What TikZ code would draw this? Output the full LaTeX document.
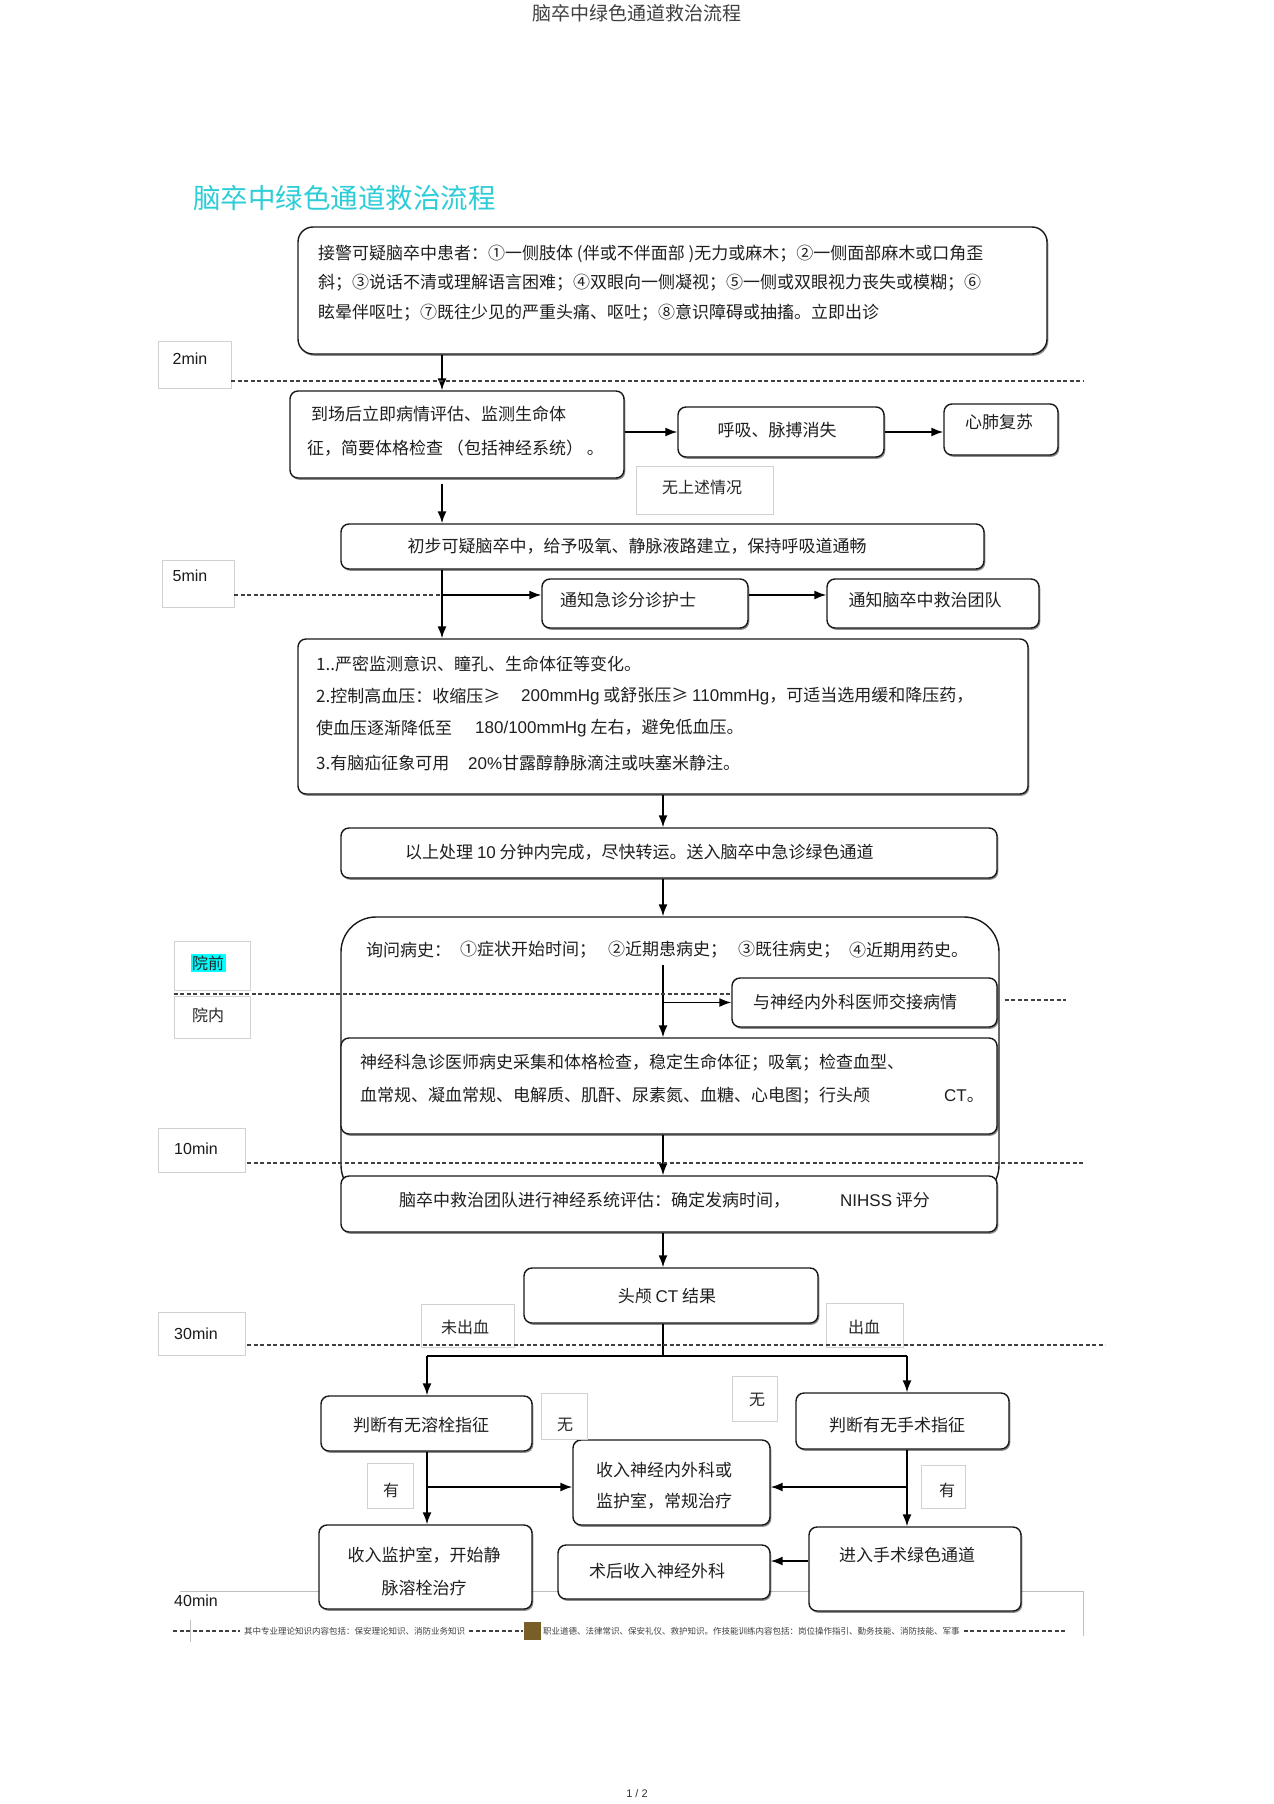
\documentclass[tikz,border=0pt]{standalone}
\usepackage{fontspec}
\setmainfont{Noto Sans CJK SC}
\newfontfamily\lat{Liberation Sans}
\usetikzlibrary{arrows.meta,shadows,fit}
\definecolor{titlecyan}{RGB}{45,205,215}
\definecolor{hlcyan}{RGB}{0,255,255}
\definecolor{iconbrown}{RGB}{120,95,40}
\begin{document}
\begin{tikzpicture}[x=1pt,y=-1pt,
 box/.style={draw=black!90, line width=1.4pt, rounded corners=8pt, fill=white, inner sep=0pt,
   drop shadow={shadow xshift=1.3pt, shadow yshift=-1.8pt, fill=black, opacity=0.45}},
 bigbox/.style={draw=black!90, line width=1.4pt, rounded corners=35pt, fill=white, inner sep=0pt},
 lbl/.style={draw=black!18, line width=0.9pt, fill=white, inner sep=0pt},
 txt/.style={font=\fontsize{17}{20}\selectfont, text=black!88, inner sep=0pt},
 ltxt/.style={font=\fontsize{16}{19}\selectfont, text=black!85, inner sep=0pt},
 mtxt/.style={font=\lat\fontsize{16}{19}\selectfont, text=black!90, inner sep=0pt},
 tiny/.style={font=\fontsize{8.5}{10}\selectfont, text=black!75, inner sep=0pt},
 arr/.style={-{Latex[length=12pt,width=9pt]}, line width=1.6pt, black},
 plain/.style={line width=1.4pt, black},
 dsh/.style={line width=2.4pt, black!75, dash pattern=on 4pt off 2.5pt},
 faint/.style={line width=0.8pt, black!25}
]
\fill[white] (0,0) rectangle (1274,1804);
\useasboundingbox (0,0) rectangle (1274,1804);

% header, title, footer
\node[font=\fontsize{19}{22}\selectfont, text=black!75, inner sep=0pt] (hdr) at (637,13) {脑卒中绿色通道救治流程};
\node[font=\fontsize{27.5}{30}\selectfont, text=titlecyan, anchor=west, inner sep=0pt] (title) at (193,198) {脑卒中绿色通道救治流程};
\node[font=\lat\fontsize{11}{13}\selectfont, text=black!80, inner sep=0pt] (foot) at (637,1794) {1 / 2};

% faint frame lines near bottom
\draw[faint] (180,1591) -- (1083,1591) -- (1083,1636);
\draw[faint] (190,1620) -- (190,1642);

% coordinates for vertical connector lines
\coordinate (xL) at (442,0);
\coordinate (xC) at (663,0);
\coordinate (xA) at (427,0);
\coordinate (xB) at (907,0);
\coordinate (y5) at (0,595);
\coordinate (ysp) at (0,1356);
\coordinate (yM) at (0,1487);
\coordinate (yS) at (0,1561);
\coordinate (q1) at (663,965);

% big enclosing box
\node[bigbox, fit={(341,917) (999,1200)}] (b6) {};

% boxes
\node[box, rounded corners=15pt, fit={(298,227) (1047,354)}] (b1) {};
\node[box, fit={(290,391) (624,478)}] (b2) {};
\node[box, fit={(678,407) (884,457)}] (hx) {};
\node[box, fit={(944,404) (1058,455)}] (cpr) {};
\node[box, fit={(341,524) (984,569)}] (b3) {};
\node[box, fit={(542,579) (748,628)}] (n1) {};
\node[box, fit={(827,579) (1039,628)}] (n2) {};
\node[box, fit={(298,639) (1028,794)}] (b4) {};
\node[box, fit={(341,828) (997,878)}] (b5) {};
\node[box, fit={(732,978) (997,1027)}] (nb) {};
\node[box, fit={(341,1038) (997,1134)}] (b7) {};
\node[box, fit={(341,1176) (997,1232)}] (b8) {};
\node[box, fit={(524,1268) (818,1323)}] (b9) {};
\node[box, fit={(321,1396) (532,1451)}] (b10) {};
\node[box, fit={(796,1393) (1009,1449)}] (b11) {};
\node[box, fit={(573,1440) (770,1525)}] (b12) {};
\node[box, fit={(319,1525) (532,1609)}] (b13) {};
\node[box, fit={(809,1527) (1021,1611)}] (b14) {};
\node[box, fit={(558,1545) (770,1599)}] (b15) {};

% label boxes
\node[lbl, fit={(158,341) (231,388)}] (m2) {};
\node[lbl, fit={(162,560) (234,607)}] (m5) {};
\node[lbl, fit={(174,941) (250,990)}] (yq) {};
\node[lbl, fit={(174,996) (250,1038)}] (yn) {};
\node[lbl, fit={(158,1128) (245,1172)}] (m10) {};
\node[lbl, fit={(158,1312) (245,1355)}] (m30) {};
\node[lbl, fit={(636,466) (773,514)}] (nos) {};
\node[lbl, fit={(421,1304) (514,1347)}] (ncx) {};
\node[lbl, fit={(826,1303) (903,1347)}] (cx) {};
\node[lbl, fit={(541,1393) (587,1439)}] (w1) {};
\node[lbl, fit={(732,1376) (777,1421)}] (w2) {};
\node[lbl, fit={(367,1463) (413,1508)}] (h1) {};
\node[lbl, fit={(921,1465) (965,1508)}] (h2) {};

% label texts
\node[mtxt] (m2t) at (190,359) {2min};
\node[mtxt] (m5t) at (190,576) {5min};
\node[mtxt] (m10t) at (196,1149) {10min};
\node[mtxt] (m30t) at (196,1334) {30min};
\node[mtxt] (m40t) at (196,1601) {40min};
\node[ltxt, fill=hlcyan, inner sep=1.5pt] (yqt) at (208,963) {院前};
\node[ltxt] (ynt) at (208,1015) {院内};
\node[ltxt] (nost) at (702,487) {无上述情况};
\node[ltxt] (ncxt) at (465,1327) {未出血};
\node[ltxt] (cxt) at (864,1327) {出血};
\node[ltxt] (w1t) at (565,1425) {无};
\node[ltxt] (w2t) at (757,1400) {无};
\node[ltxt] (h1t) at (391,1490) {有};
\node[ltxt] (h2t) at (947,1490) {有};

% box texts
\node[txt, anchor=west] (b1a) at (318,254) {接警可疑脑卒中患者：①一侧肢体 (伴或不伴面部 )无力或麻木；②一侧面部麻木或口角歪};
\node[txt, anchor=west] (b1b) at (318,283) {斜；③说话不清或理解语言困难；④双眼向一侧凝视；⑤一侧或双眼视力丧失或模糊；⑥};
\node[txt, anchor=west] (b1c) at (318,313) {眩晕伴呕吐；⑦既往少见的严重头痛、呕吐；⑧意识障碍或抽搐。立即出诊};

\node[txt, anchor=west] (b2a) at (311,414) {到场后立即病情评估、监测生命体};
\node[txt, anchor=west] (b2b) at (307,448) {征，简要体格检查 （包括神经系统） 。};
\node[txt] (hxt) at (777,430) {呼吸、脉搏消失};
\node[txt] (cprt) at (999,422) {心肺复苏};
\node[txt] (b3t) at (637,546) {初步可疑脑卒中，给予吸氧、静脉液路建立，保持呼吸道通畅};
\node[txt] (n1t) at (628,600) {通知急诊分诊护士};
\node[txt] (n2t) at (925,600) {通知脑卒中救治团队};

\node[txt, anchor=west] (b4a) at (316,664) {1..严密监测意识、瞳孔、生命体征等变化。};
\node[txt, anchor=west] (b4b) at (316,696) {2.控制高血压：收缩压≥};
\node[txt, anchor=west] (b4c) at (521,696) {{\lat 200mmHg} 或舒张压≥ {\lat 110mmHg}，可适当选用缓和降压药，};
\node[txt, anchor=west] (b4d) at (316,728) {使血压逐渐降低至};
\node[txt, anchor=west] (b4e) at (475,728) {{\lat 180/100mmHg} 左右，避免低血压。};
\node[txt, anchor=west] (b4f) at (316,763) {3.有脑疝征象可用};
\node[txt, anchor=west] (b4g) at (468,763) {{\lat 20\%}甘露醇静脉滴注或呋塞米静注。};

\node[txt, anchor=west] (b5t) at (405,852) {以上处理 {\lat 10} 分钟内完成，尽快转运。送入脑卒中急诊绿色通道};

\node[txt, anchor=west] (b6a) at (366,950) {询问病史：};
\node[txt, anchor=west] (b6b) at (460,950) {①症状开始时间；};
\node[txt, anchor=west] (b6c) at (608,950) {②近期患病史；};
\node[txt, anchor=west] (b6d) at (738,950) {③既往病史；};
\node[txt, anchor=west] (b6e) at (849,950) {④近期用药史。};
\node[txt] (nbt) at (855,1002) {与神经内外科医师交接病情};

\node[txt, anchor=west] (b7a) at (360,1063) {神经科急诊医师病史采集和体格检查，稳定生命体征；吸氧；检查血型、};
\node[txt, anchor=west] (b7b) at (360,1096) {血常规、凝血常规、电解质、肌酐、尿素氮、血糖、心电图；行头颅};
\node[txt, anchor=west] (b7c) at (944,1096) {{\lat CT}。};

\node[txt, anchor=west] (b8a) at (399,1200) {脑卒中救治团队进行神经系统评估：确定发病时间，};
\node[txt, anchor=west] (b8b) at (840,1200) {{\lat NIHSS} 评分};
\node[txt] (b9t) at (667,1296) {头颅 {\lat CT} 结果};
\node[txt] (b10t) at (421,1425) {判断有无溶栓指征};
\node[txt] (b11t) at (897,1425) {判断有无手术指征};
\node[txt, anchor=west] (b12a) at (596,1470) {收入神经内外科或};
\node[txt, anchor=west] (b12b) at (596,1501) {监护室，常规治疗};
\node[txt] (b13a) at (424,1555) {收入监护室，开始静};
\node[txt] (b13b) at (424,1588) {脉溶栓治疗};
\node[txt] (b14t) at (907,1555) {进入手术绿色通道};
\node[txt] (b15t) at (657,1571) {术后收入神经外科};

% connectors
\draw[arr] (b1.south -| xL) -- (b2.north -| xL);
\draw[arr] (b2.east |- hx.west) -- (hx.west);
\draw[arr] (hx.east |- hx.west) -- (cpr.west |- hx.west);
\draw[arr, shorten <=5pt] (b2.south -| xL) -- (b3.north -| xL);
\draw[arr] (b3.south -| xL) -- (b4.north -| xL);
\draw[arr] (xL |- y5) -- (n1.west |- y5);
\draw[arr] (n1.east |- y5) -- (n2.west |- y5);
\draw[arr] (b4.south -| xC) -- (b5.north -| xC);
\draw[arr] (b5.south -| xC) -- (b6.north -| xC);
\draw[arr] (q1) -- (b7.north -| xC);
\draw[arr] (xC |- nb.west) -- (nb.west);
\draw[arr] (b7.south -| xC) -- (b8.north -| xC);
\draw[arr] (b8.south -| xC) -- (b9.north -| xC);
\draw[plain] (b9.south -| xC) -- (xC |- ysp);
\draw[plain] (xA |- ysp) -- (xB |- ysp);
\draw[arr] (xA |- ysp) -- (b10.north -| xA);
\draw[arr] (xB |- ysp) -- (b11.north -| xB);
\draw[arr] (b10.south -| xA) -- (b13.north -| xA);
\draw[arr] (xA |- yM) -- (b12.west |- yM);
\draw[arr] (b11.south -| xB) -- (b14.north -| xB);
\draw[arr] (xB |- yM) -- (b12.east |- yM);
\draw[arr] (b14.west |- yS) -- (b15.east |- yS);

% dashed time lines
\coordinate (d2r) at (1084,381);
\draw[dsh] (m2.east |- d2r) -- (d2r);
\draw[dsh] (m5.east |- y5) -- (xL |- y5);
\coordinate (dqy) at (0,994);
\draw[dsh] (yq.west |- dqy) -- (nb.west |- dqy);
\coordinate (dqr) at (1066,1000);
\draw[dsh] ([xshift=7pt]nb.east |- dqr) -- (dqr);
\coordinate (d10r) at (1084,1163);
\draw[dsh] (247,1163) -- (d10r);
\coordinate (d30r) at (1105,1345);
\draw[dsh] (247,1345) -- (d30r);

% bottom strip
\coordinate (bl) at (173,1631);
\coordinate (br) at (1065,1631);
\node[tiny, anchor=west] (bt1) at (244,1631) {其中专业理论知识内容包括：保安理论知识、消防业务知识};
\node[fill=iconbrown, minimum width=17pt, minimum height=18pt, inner sep=0pt] (icon) at (532,1631) {};
\node[tiny, anchor=west] (bt2) at (543,1631) {职业道德、法律常识、保安礼仪、救护知识。作技能训练内容包括：岗位操作指引、勤务技能、消防技能、军事};
\draw[dsh] (bl) -- ([xshift=-4pt]bt1.west);
\draw[dsh] ([xshift=4pt]bt1.east) -- (icon.west);
\draw[dsh] ([xshift=4pt]bt2.east) -- (br);
\end{tikzpicture}
\end{document}
